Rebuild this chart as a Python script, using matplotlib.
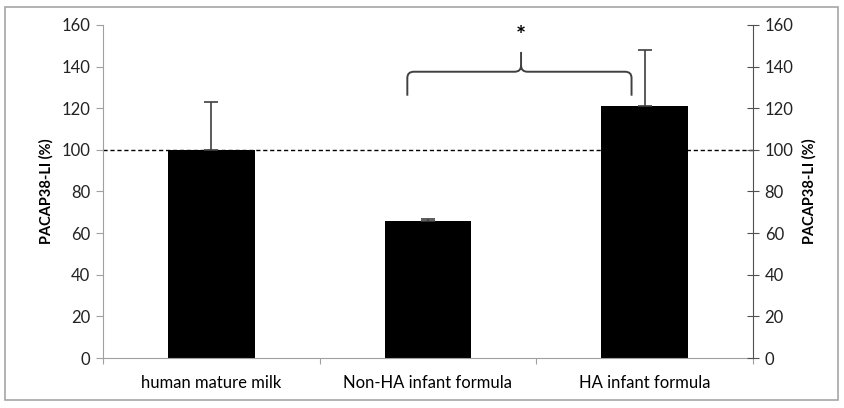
import matplotlib as mpl
mpl.use('Agg')
import matplotlib.pyplot as plt
from matplotlib.path import Path
from matplotlib.patches import PathPatch, Rectangle

categories = ['human mature milk', 'Non-HA infant formula', 'HA infant formula']
values = [100, 66, 121]
err_up = [23, 1, 27]
yticks = [0, 20, 40, 60, 80, 100, 120, 140, 160]

plt.rcParams['font.family'] = ['Lato', 'DejaVu Sans']

fig = plt.figure(figsize=(8.44, 4.08), dpi=100)
fig.patches.append(Rectangle((0.006, 0.02), 0.987, 0.963, transform=fig.transFigure,
                             fill=False, edgecolor='#a6a6a6', linewidth=1.2))
ax = fig.add_axes([0.122, 0.1225, 0.770, 0.8165])

x = list(range(len(categories)))
ax.bar(x, values, width=0.4, color='black', zorder=2)
ax.errorbar(x, values, yerr=[[0] * 3, err_up], fmt='none', ecolor='#404040',
            elinewidth=1.2, capsize=5, capthick=1.2, zorder=3)
ax.axhline(100, color='black', linestyle=(0, (3, 2)), linewidth=1.0, zorder=1)

ax.set_xlim(-0.5, 2.5)
ax.set_ylim(0, 160)
ax.set_yticks(yticks)
ax.set_xticks([-0.5, 0.5, 1.5, 2.5], minor=False)
ax.set_xticklabels([])
ax.set_xticks(x, minor=True)
ax.set_xticklabels(categories, minor=True, fontsize=12)
ax.tick_params(axis='x', which='minor', length=0, pad=12)
ax.tick_params(axis='x', which='major', length=4, color='#a0a0a0')
ax.tick_params(axis='y', length=5, color='#a0a0a0', labelsize=12, labelcolor='#222222', pad=4)
ax.tick_params(axis='x', labelcolor='#222222')
for s in ['top', 'right']:
    ax.spines[s].set_visible(False)
ax.spines['left'].set_color('#a0a0a0')
ax.spines['bottom'].set_color('#a0a0a0')
ax.set_ylabel('PACAP38-LI (%)', fontsize=10.5, fontweight='bold', labelpad=6)

ax2 = ax.twinx()
ax2.set_ylim(0, 160)
ax2.set_yticks(yticks)
ax2.tick_params(axis='y', direction='inout', length=9, color='#505050', labelsize=12,
                labelcolor='#222222', pad=4)
for s in ['top', 'left', 'bottom']:
    ax2.spines[s].set_visible(False)
ax2.spines['right'].set_color('#505050')
ax2.set_ylabel('PACAP38-LI (%)', fontsize=10.5, fontweight='bold', labelpad=6)

# curly bracket over the formula groups
xl, xr, xc = 0.905, 1.94, 1.43
yb, yh, yt = 126, 137.5, 147
r = 0.03
verts = [(xl, yb), (xl, yh - 3), (xl, yh), (xl + r, yh),
         (xc - r, yh), (xc, yh), (xc, yh + 3),
         (xc, yt),
         (xc, yh + 3), (xc, yh), (xc + r, yh),
         (xr - r, yh), (xr, yh), (xr, yh - 3),
         (xr, yb)]
codes = [Path.MOVETO, Path.LINETO, Path.CURVE3, Path.CURVE3,
         Path.LINETO, Path.CURVE3, Path.CURVE3,
         Path.LINETO,
         Path.MOVETO, Path.CURVE3, Path.CURVE3,
         Path.LINETO, Path.CURVE3, Path.CURVE3,
         Path.LINETO]
ax.add_patch(PathPatch(Path(verts, codes), fill=False, edgecolor='#404040', linewidth=1.4,
                       clip_on=False, zorder=4))
ax.text(xc, 154.5, '*', ha='center', va='center', fontsize=17, fontweight='bold')

fig.savefig('out.png', dpi=100)
